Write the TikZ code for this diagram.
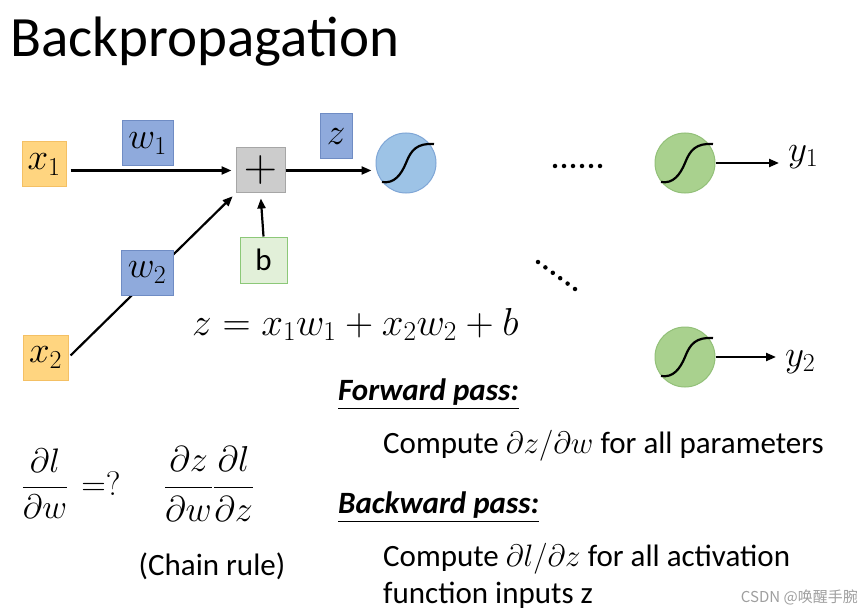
\RequirePackage{fix-cm}
\documentclass[tikz,border=0pt]{standalone}
\usepackage{amsmath}
\usepackage{fontspec}
\setmainfont{Carlito}
\newfontfamily\cjk{Noto Sans CJK SC}
\usetikzlibrary{arrows.meta}
\definecolor{ofill}{HTML}{FFD580}
\definecolor{odraw}{HTML}{F4C064}
\definecolor{bfill}{HTML}{8FAADC}
\definecolor{bdraw}{HTML}{6F8CC4}
\definecolor{gfill}{HTML}{CCCCCC}
\definecolor{gdraw}{HTML}{A6A6A6}
\definecolor{lgfill}{HTML}{E2F0D9}
\definecolor{lgdraw}{HTML}{8CC878}
\definecolor{bcfill}{HTML}{9DC3E6}
\definecolor{bcdraw}{HTML}{7FA6D6}
\definecolor{gcfill}{HTML}{A9D18E}
\definecolor{gcdraw}{HTML}{92C078}
\tikzset{
  box/.style={rectangle, inner sep=0pt, line width=1pt},
  obox/.style={box, fill=ofill, draw=odraw},
  wbox/.style={box, fill=bfill, draw=bdraw},
  pbox/.style={box, fill=gfill, draw=gdraw},
  bbox/.style={box, fill=lgfill, draw=lgdraw},
  bcirc/.style={circle, minimum size=60pt, inner sep=0pt, fill=bcfill, draw=bcdraw, line width=1pt},
  gcirc/.style={circle, minimum size=60pt, inner sep=0pt, fill=gcfill, draw=gcdraw, line width=1pt},
  arr/.style={-{Triangle[length=10pt,width=8pt]}, line width=2.2pt},
  mfont/.style={font=\fontsize{37}{40}\selectfont},
  tfont/.style={font=\fontsize{31}{34}\selectfont},
  hfont/.style={font=\fontsize{31}{33}\selectfont\bfseries\itshape},
  sig/.pic={\draw[line width=2.2pt] (-24,19) .. controls (-12,21) and (-5,12) .. (0,0) .. controls (5,-13) and (11,-20) .. (28,-19);},
  dotm/.style={fill=black, circle, inner sep=0pt, minimum size=4.5pt}
}
\begin{document}
\begin{tikzpicture}[x=1pt,y=-1pt]
\useasboundingbox (0,0) rectangle (868,615);
\fill[white] (0,0) rectangle (868,615);

\node[anchor=base west, font=\fontsize{57}{60}\selectfont, inner sep=0pt] (title) at (10,57) {Backpropagation};

% inputs and sum
\node[obox, minimum width=44pt, minimum height=45pt, mfont] (x1) at (44,164.5) {$x_1$};
\node[obox, minimum width=45pt, minimum height=45pt, mfont] (x2) at (45.5,357.5) {$x_2$};
\node[pbox, minimum width=49pt, minimum height=45pt, font=\fontsize{46}{48}\selectfont] (plus) at (260.5,170.5) {$+$};
\node[bbox, minimum width=47pt, minimum height=46pt, tfont] (b) at (263.5,260) {b};
\node[bcirc] (c1) at (406,163) {};
\pic at (c1.center) {sig};

\draw[arr, shorten <=4pt, shorten >=4pt] (x1.east |- plus.west) -- (plus.west);
\draw[arr, shorten <=3pt, shorten >=4pt] (x2.east) -- (plus.south west);
\draw[arr, shorten >=5pt] (b.north) -- (plus.south);
\draw[arr, shorten >=4pt] (plus.east) -- (plus.east -| c1.west);

\node[wbox, minimum width=51pt, minimum height=45pt, mfont] (w1) at (147.5,143.5) {$w_1$};
\node[wbox, minimum width=52pt, minimum height=45pt, mfont] (w2) at (147,272.5) {$w_2$};
\node[wbox, minimum width=32pt, minimum height=45pt, mfont] (z) at (336,136.5) {$z$};

\node[anchor=base west, font=\fontsize{39}{42}\selectfont, inner sep=0pt] (eq) at (192,335) {$z = x_1w_1 + x_2w_2 + b$};

% dots
\foreach \i in {0,...,5} {
  \node[dotm] (dh\i) at ({555+\i*9},166) {};
  \node[dotm] (dd\i) at ({538+\i*7.4},{262+\i*5.4}) {};
}

% outputs
\node[gcirc] (g1) at (685,163) {};
\pic at (g1.center) {sig};
\node[gcirc] (g2) at (685,357) {};
\pic at (g2.center) {sig};
\node[anchor=west, mfont, inner sep=0pt] (y1) at (788,157) {$y_1$};
\node[anchor=west, mfont, inner sep=0pt] (y2) at (785,362) {$y_2$};
\draw[arr, shorten >=9pt] (g1.east) -- (g1.east -| y1.west);
\draw[arr, shorten >=9pt] (g2.east) -- (g2.east -| y2.west);

% bottom text
\node[anchor=base west, hfont, inner sep=0pt] (fp) at (338,400) {\underline{Forward pass:}};
\node[anchor=base west, tfont, inner sep=0pt] (fpt) at (383,453) {Compute $\partial z/\partial w$ for all parameters};
\node[anchor=base west, hfont, inner sep=0pt] (bp) at (338,513) {\underline{Backward pass:}};
\node[anchor=base west, tfont, inner sep=0pt] (bpt1) at (383,566) {Compute $\partial l/\partial z$ for all activation};
\node[anchor=base west, tfont, inner sep=0pt] (bpt2) at (383,603) {function inputs z};

\node[font=\fontsize{34}{36}\selectfont, inner sep=0pt] (dldw) at (45,484) {$\dfrac{\partial l}{\partial w}$};
\node[anchor=base, font=\fontsize{34}{36}\selectfont, inner sep=0pt] (eqq) at (101,495) {$=?$};
\node[font=\fontsize{36}{38}\selectfont, inner sep=0pt] (chain) at (209,484) {$\dfrac{\partial z}{\partial w}\dfrac{\partial l}{\partial z}$};
\node[tfont, inner sep=0pt] (cr) at (212,566) {(Chain rule)};

\node[anchor=base east, font=\cjk\fontsize{15}{16}\selectfont, text=gray!75, inner sep=0pt] (wm) at (858,602) {CSDN @唤醒手腕};
\end{tikzpicture}
\end{document}
